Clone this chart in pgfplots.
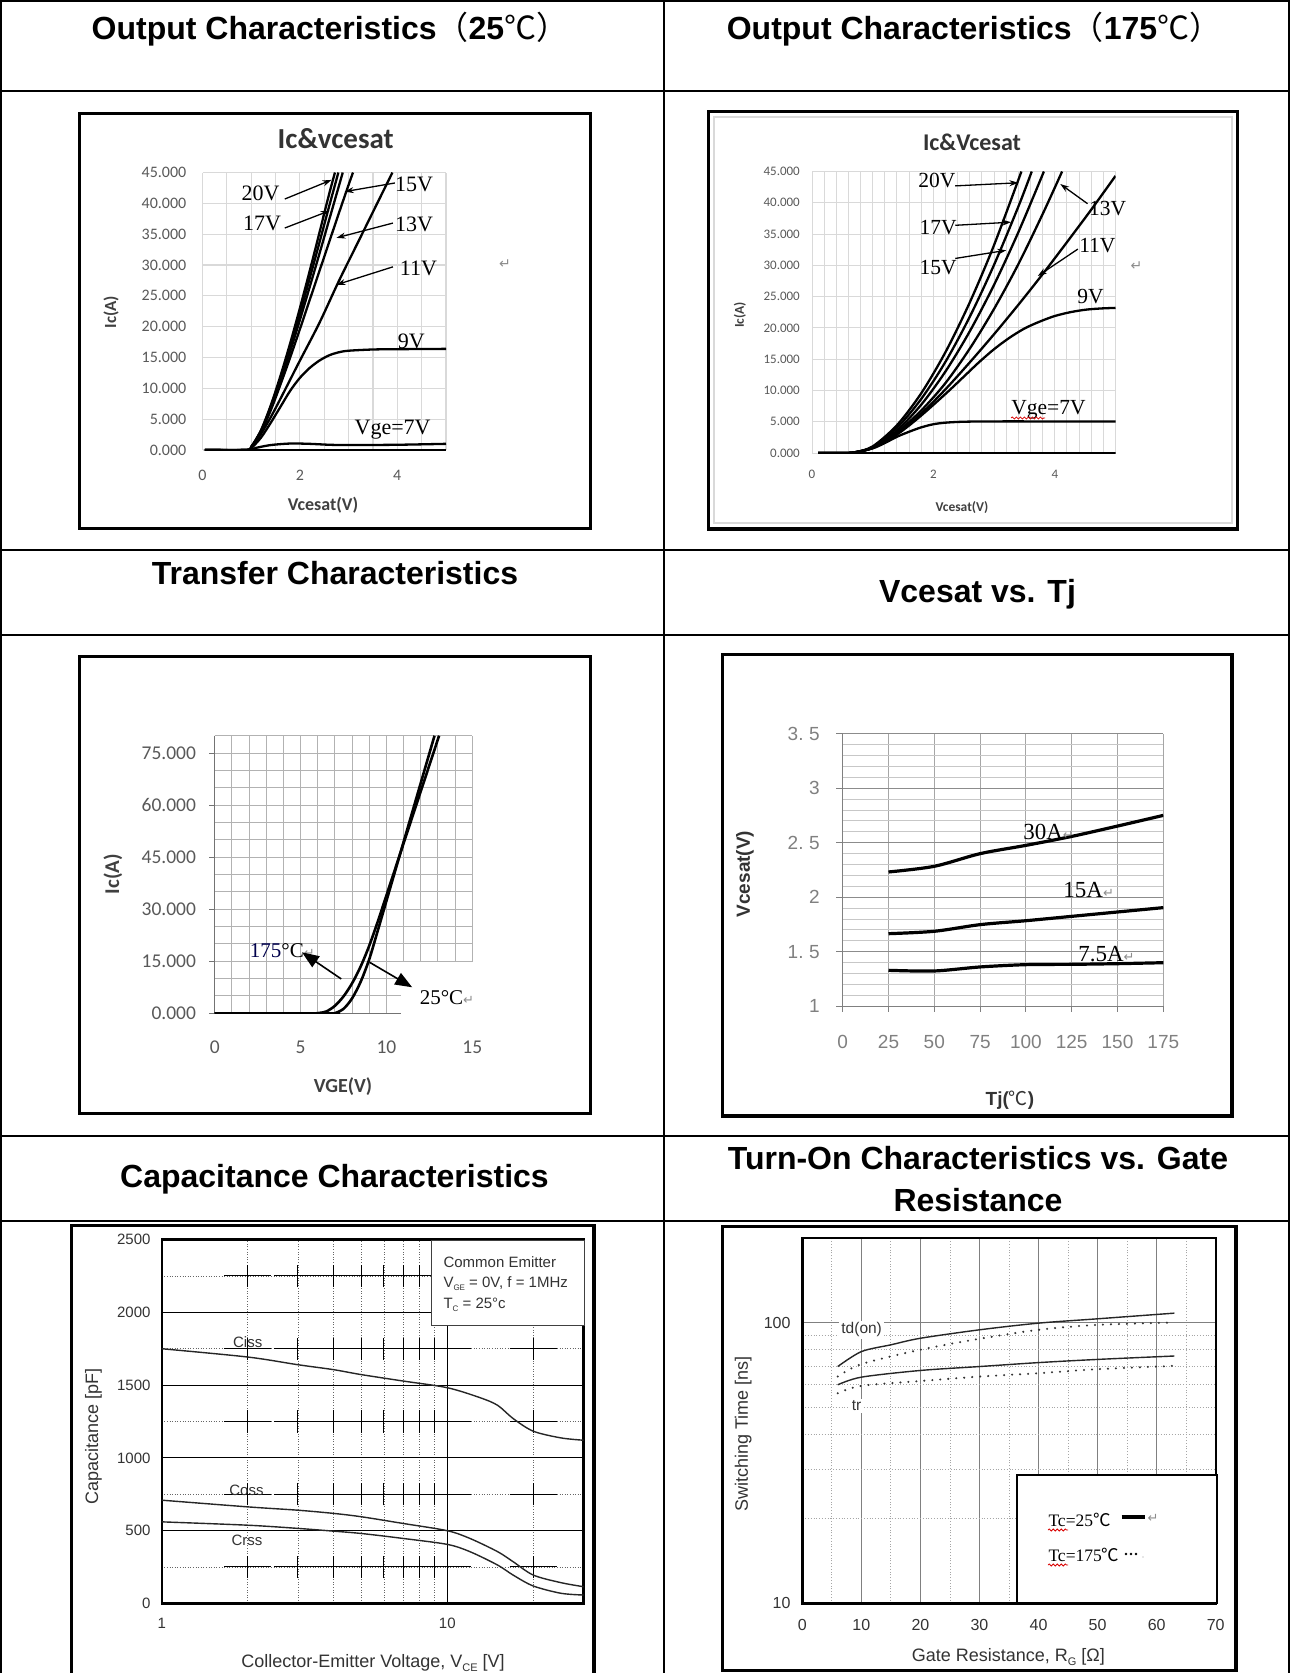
\documentclass[border=0pt]{standalone}
\usepackage{fontspec}
\usepackage{pgfplots}
\pgfplotsset{compat=1.18}
\usetikzlibrary{arrows.meta,decorations.pathmorphing}
\setmainfont{Liberation Sans}
\newfontfamily\carlito{Carlito}
\newfontfamily\tnr{Liberation Serif}
\newfontfamily\cjk{Noto Sans CJK SC}
\newfontfamily\dvs{DejaVu Sans}
\newcommand\fs[1]{\fontsize{#1}{#1}\selectfont}
\newcommand\ret[1][14]{{\dvs\fs{#1}\color{black!45}↵}}
\newcommand\gap{\hspace{0.3em}}
\definecolor{tickc}{HTML}{595959}
\definecolor{gridc}{HTML}{D9D9D9}
\definecolor{txt}{HTML}{333333}
\pgfplotsset{
  excel/.style={scale only axis, anchor=south west, clip mode=individual,
    axis line style={draw=none}, major tick length=0pt, minor tick length=0pt},
}
\tikzset{
  vlab/.style={font=\tnr\fs{#1}, inner sep=0pt, anchor=west},
  vlab/.default=22,
  thinarrow/.style={-{Stealth[length=9pt,width=6pt]}, line width=1.3pt},
  sol/.style={black!85, line width=1.4pt, smooth},
  dot/.style={black!80, line width=2.3pt, line cap=round, dash pattern=on 0pt off 8pt, smooth},
}
\begin{document}
\begin{tikzpicture}
\useasboundingbox (0,0) rectangle (1290pt,-1673pt);
\clip (0,0) rectangle (1290pt,-1673pt);
\begin{scope}[x=1pt,y=-1pt]
\fill[white] (0,0) rectangle (1290,1673);
% table rules
\draw[line width=1.7pt] (0,1) -- (1290,1) (0,91) -- (1290,91) (0,550) -- (1290,550)
  (0,635) -- (1290,635) (0,1136) -- (1290,1136) (0,1221) -- (1290,1221);
\draw[line width=1.7pt] (1,0) -- (1,1673) (664,0) -- (664,1673) (1289,0) -- (1289,1673);
% cell headings
\begin{scope}[every node/.style={font=\bfseries\fs{32}, inner sep=0pt}]
\node at (330,29) {Output Characteristics{\cjk\mdseries （}25{\cjk\mdseries ℃）}};
\node at (974,29) {Output Characteristics{\cjk\mdseries （}175{\cjk\mdseries ℃）}};
\node at (335,573) {Transfer Characteristics};
\node at (977.5,594) {Vcesat vs. Tj};
\node at (334.5,1179) {Capacitance Characteristics};
\node at (978,1158) {Turn-On Characteristics vs. Gate};
\node at (978,1200.5) {Resistance};
\end{scope}
% chart frames
\draw[line width=3.3pt] (79.5,113.5) rectangle (590.5,528.5);
\draw[line width=3.3pt] (708.5,111.5) rectangle (1237.5,529);
\draw[gray!30, line width=1.5pt] (714,117) rectangle (1232,523);
\draw[line width=3.3pt] (79.5,656.5) rectangle (590.5,1113.5);
\draw[line width=3.3pt] (722.5,654.5) rectangle (1232,1116);
\draw[line width=3.3pt] (71.5,1700) -- (71.5,1225.5) -- (594,1225.5) -- (594,1700);
\draw[line width=3.3pt] (722.5,1226.5) rectangle (1236,1670.5);
% chart titles and axis titles
\node[font=\carlito\bfseries\fs{29}, text=black!80, inner sep=0pt] at (335.7,138.7) {Ic\&vcesat};
\node[font=\carlito\bfseries\fs{17}, text=black!75, rotate=90, inner sep=0pt] at (111,312) {Ic(A)};
\node[font=\carlito\bfseries\fs{18}, text=black!75, inner sep=0pt] at (323,505) {Vcesat(V)};
\node[font=\carlito\bfseries\fs{24}, text=black!80, inner sep=0pt] at (972,142) {Ic\&Vcesat};
\node[font=\carlito\bfseries\fs{13.5}, text=black!75, rotate=90, inner sep=0pt] at (740,315) {Ic(A)};
\node[font=\carlito\bfseries\fs{13.5}, text=black!75, inner sep=0pt] at (962,508) {Vcesat(V)};
\node[font=\carlito\bfseries\fs{21}, text=black!75, rotate=90, inner sep=0pt] at (113,874) {Ic(A)};
\node[font=\carlito\bfseries\fs{20}, text=black!75, inner sep=0pt] at (343,1087) {VGE(V)};
\node[font=\bfseries\fs{19}, text=black!80, rotate=90, inner sep=0pt] at (745,874) {Vcesat(V)};
\node[font=\bfseries\fs{19}, text=black!80, inner sep=0pt] at (1010,1100) {Tj({\cjk\mdseries ℃})};
\node[font=\fs{18}, text=txt, rotate=90, inner sep=0pt] at (93.4,1436.7) {Capacitance [pF]};
\node[font=\fs{18}, text=txt, inner sep=0pt] at (373,1663) {Collector-Emitter Voltage, V\raisebox{-4pt}{\fs{11}CE} [V]};
\node[font=\fs{18}, text=txt, rotate=90, inner sep=0pt] at (743.3,1433.7) {Switching Time [ns]};
\node[font=\fs{18}, text=txt, inner sep=0pt] at (1008.3,1657) {Gate Resistance, R\raisebox{-4pt}{\fs{11}G} [Ω]};
\node at (505,264) {\ret};
\node at (1136.5,266) {\ret};
\end{scope}

% ---------- Output characteristics, 25 C ----------
\begin{axis}[excel, at={(202.5pt,-450pt)}, width=243.5pt, height=277.5pt,
  xmin=0, xmax=5, ymin=0, ymax=45,
  xtick={0,2,4}, xticklabels={0,2,4},
  ytick={0,5,...,45},
  yticklabels={0.000,5.000,10.000,15.000,20.000,25.000,30.000,35.000,40.000,45.000},
  minor xtick={0.5,1,...,5},
  grid=both, major grid style={draw=gridc, line width=1.1pt}, minor grid style={draw=gridc, line width=1.1pt},
  yticklabel style={font=\carlito\fs{16}, text=tickc, anchor=east, inner sep=0pt, xshift=-16pt},
  xticklabel style={font=\carlito\fs{16}, text=tickc, anchor=center, inner sep=0pt, yshift=-25pt},
  every axis plot/.append style={black, line width=2.3pt, line join=round},
]
\addplot[black] coordinates {(0.05,0) (5,0)};
\addplot[smooth] coordinates {(0.05,0) (0.9,0) (1.1,0.35) (1.4,0.8) (1.8,1.05) (2.2,1.0) (2.6,0.85) (3.0,0.8) (4.0,0.85) (5.0,1.0)};
\addplot[smooth] coordinates {(0.05,0) (0.9,0) (1.0,0.3) (1.2,2.0) (1.4,4.4) (1.6,7.0) (1.8,9.6) (2.0,11.7) (2.2,13.3) (2.4,14.5) (2.6,15.35) (2.8,15.85) (3.0,16.1) (3.5,16.3) (4.0,16.35) (5.0,16.4)};
\addplot[smooth] coordinates {(0.05,0) (0.9,0) (1.0,0.4) (1.2,2.6) (1.4,5.3) (1.6,8.3) (1.8,11.4) (2.0,14.5) (2.4,20.6) (2.8,27.4) (3.2,33.8) (3.6,40.2) (3.9,45)};
\addplot[smooth] coordinates {(0.05,0) (0.9,0) (1.0,0.45) (1.2,2.9) (1.4,6.4) (1.6,10.6) (1.8,15.0) (2.0,19.6) (2.2,24.3) (2.4,29.0) (2.6,33.7) (2.8,38.4) (3.0,43.0) (3.09,45)};
\addplot[smooth] coordinates {(0.05,0) (0.9,0) (1.0,0.5) (1.2,3.0) (1.4,6.8) (1.6,11.2) (1.8,16.0) (2.0,21.1) (2.2,26.4) (2.4,31.8) (2.6,37.3) (2.8,42.8) (2.88,45)};
\addplot[smooth] coordinates {(0.05,0) (0.9,0) (1.0,0.5) (1.2,3.1) (1.4,7.0) (1.6,11.6) (1.8,16.7) (2.0,22.1) (2.2,27.8) (2.4,33.6) (2.6,39.5) (2.79,45)};
\addplot[smooth] coordinates {(0.05,0) (0.9,0) (1.0,0.5) (1.2,3.2) (1.4,7.2) (1.6,12.0) (1.8,17.3) (2.0,23.0) (2.2,29.0) (2.4,35.2) (2.6,41.5) (2.72,45)};
\node[vlab] at (axis cs:0.80,41.6) {20V};
\node[vlab] at (axis cs:0.83,36.8) {17V};
\node[vlab] at (axis cs:3.95,43.1) {15V};
\node[vlab] at (axis cs:3.95,36.6) {13V};
\node[vlab] at (axis cs:4.05,29.5) {11V};
\node[vlab] at (axis cs:4.01,17.6) {9V};
\node[vlab] at (axis cs:3.12,3.24) {Vge=7V};
\draw[thinarrow] (axis cs:1.69,40.7) -- (axis cs:2.65,43.8);
\draw[thinarrow] (axis cs:1.69,36.0) -- (axis cs:2.61,38.8);
\draw[thinarrow] (axis cs:3.95,43.3) -- (axis cs:2.92,41.9);
\draw[thinarrow] (axis cs:3.91,36.8) -- (axis cs:2.75,34.4);
\draw[thinarrow] (axis cs:3.91,29.7) -- (axis cs:2.75,26.8);
\end{axis}

% ---------- Output characteristics, 175 C ----------
\begin{axis}[excel, at={(812pt,-453pt)}, width=303.5pt, height=281.5pt,
  xmin=0, xmax=5, ymin=0, ymax=45,
  xtick={0,2,4}, xticklabels={0,2,4},
  ytick={0,5,...,45},
  yticklabels={0.000,5.000,10.000,15.000,20.000,25.000,30.000,35.000,40.000,45.000},
  minor xtick={0.2,0.4,...,5},
  grid=both, major grid style={draw=gridc, line width=1pt}, minor grid style={draw=gridc, line width=1pt},
  yticklabel style={font=\carlito\fs{13}, text=tickc, anchor=east, inner sep=0pt, xshift=-12pt},
  xticklabel style={font=\carlito\fs{13}, text=tickc, anchor=center, inner sep=0pt, yshift=-21pt},
  every axis plot/.append style={black, line width=2.3pt, line join=round},
]
\addplot[black] coordinates {(0.1,0) (5,0)};
\addplot[smooth] coordinates {(0.1,0) (0.5,0) (0.7,0.1) (1.0,0.75) (1.2,1.6) (1.4,2.6) (1.6,3.4) (1.8,4.1) (2.0,4.6) (2.2,4.85) (2.5,5.0) (3.0,5.05) (4.0,5.05) (5.0,5.05)};
\addplot[smooth] coordinates {(0.1,0) (0.5,0) (0.7,0.1) (1.0,0.78) (1.2,1.8) (1.4,2.95) (1.6,4.4) (1.8,6.0) (2.0,7.7) (2.25,9.9) (2.5,12.2) (2.75,14.5) (3.0,16.6) (3.25,18.4) (3.5,19.9) (3.75,21.0) (4.0,21.9) (4.25,22.5) (4.5,22.9) (4.75,23.1) (5.0,23.2)};
\addplot[smooth] coordinates {(0.1,0) (0.5,0) (0.7,0.1) (1.0,0.8) (1.4,3.1) (1.8,6.3) (2.2,10.2) (2.6,14.5) (3.0,19.0) (3.4,23.7) (3.8,28.6) (4.2,33.7) (4.6,38.9) (5.0,44.3)};
\addplot[smooth] coordinates {(0.1,0) (0.5,0) (0.7,0.1) (1.0,0.85) (1.4,3.3) (1.8,6.8) (2.2,11.2) (2.6,16.7) (3.0,23.05) (3.4,30.2) (3.8,38.2) (4.12,45)};
\addplot[smooth] coordinates {(0.1,0) (0.5,0) (0.7,0.1) (1.0,0.9) (1.4,3.6) (1.8,7.73) (2.2,13.05) (2.6,19.47) (3.0,26.9) (3.4,35.3) (3.82,45)};
\addplot[smooth] coordinates {(0.1,0) (0.5,0) (0.7,0.1) (1.0,0.96) (1.4,4.03) (1.8,8.65) (2.2,14.6) (2.6,21.8) (3.0,30.1) (3.4,39.4) (3.62,45)};
\addplot[smooth] coordinates {(0.1,0) (0.5,0) (0.7,0.1) (1.0,1.06) (1.4,4.45) (1.8,9.56) (2.2,16.15) (2.6,24.09) (3.0,33.26) (3.45,45)};
\node[vlab=21.5] at (axis cs:1.75,43.6) {20V};
\node[vlab=21.5] at (axis cs:1.77,36.1) {17V};
\node[vlab=21.5] at (axis cs:1.77,29.6) {15V};
\node[vlab=21.5] at (axis cs:4.56,39.1) {13V};
\node[vlab=21.5] at (axis cs:4.40,33.2) {11V};
\node[vlab=21.5] at (axis cs:4.37,25.0) {9V};
\node[vlab=21.5] at (axis cs:3.28,6.9) {Vge=7V};
\draw[red!85!black, line width=0.8pt, decorate, decoration={snake, amplitude=1pt, segment length=4pt}] (axis cs:3.28,5.6) -- (axis cs:3.84,5.6);
\draw[thinarrow] (axis cs:2.36,42.7) -- (axis cs:3.40,43.2);
\draw[thinarrow] (axis cs:2.36,36.4) -- (axis cs:3.28,36.9);
\draw[thinarrow] (axis cs:2.36,31.1) -- (axis cs:3.20,32.4);
\draw[thinarrow] (axis cs:4.54,39.85) -- (axis cs:4.09,43.0);
\draw[thinarrow] (axis cs:4.38,32.6) -- (axis cs:3.72,28.3);
\end{axis}

% ---------- Transfer characteristics ----------
\begin{axis}[excel, at={(214.7pt,-1013.3pt)}, width=257.6pt, height=277.6pt,
  xmin=0, xmax=15, ymin=0, ymax=80,
  xtick={0,5,10,15}, xticklabels={0,5,10,15},
  ytick={0,15,...,75}, yticklabels={0.000,15.000,30.000,45.000,60.000,75.000},
  minor xtick={0,1,...,15}, minor ytick={0,5,...,80},
  grid=both, major grid style={draw=black!30, line width=1pt}, minor grid style={draw=black!30, line width=1pt},
  yticklabel style={font=\carlito\fs{19.5}, text=tickc, anchor=east, inner sep=0pt, xshift=-18.5pt},
  xticklabel style={font=\carlito\fs{19.5}, text=tickc, anchor=center, inner sep=0pt, yshift=-34pt},
]
\draw[black!55, line width=1pt] (axis cs:0,80) -- (axis cs:0,0) -- (axis cs:15,0);
\foreach \t in {0,15,30,45,60,75}{\edef\tmp{\noexpand\draw[black!55, line width=1pt] (axis cs:0,\t) -- ++(-6pt,0pt);}\tmp}
\fill[white] (axis cs:10.85,-2) rectangle (axis cs:15.4,14.9);
\addplot[black, line width=2.6pt, smooth] coordinates {(0,0) (5.8,0) (6.0,0.05) (6.5,0.54) (7.0,2.16) (7.5,4.87) (8.0,8.65) (8.5,13.5) (9.0,19.5) (9.5,26.5) (10,34.0) (10.5,41.5) (11,49.0) (11.5,56.5) (12,64.0) (12.5,71.5) (13,79.0) (13.07,80)};
\addplot[black, line width=2.6pt, smooth] coordinates {(0,0) (6.8,0) (7.0,0.04) (7.5,1.28) (8.0,4.31) (8.5,9.1) (9.0,15.6) (9.5,23.9) (10,32.4) (10.5,40.9) (11,49.4) (11.5,57.9) (12,66.4) (12.5,74.9) (12.8,80)};
\node[vlab=21] at (axis cs:2.04,18.1) {{\color{black!70!blue}175}°C\ret[13]};
\node[vlab=21] at (axis cs:11.93,4.6) {25°C\ret[13]};
\draw[line width=1.6pt, -{Triangle[length=17pt,width=13pt]}] (axis cs:7.37,9.9) -- (axis cs:5.08,17.6);
\draw[line width=1.6pt, -{Triangle[length=17pt,width=13pt]}] (axis cs:9.02,14.7) -- (axis cs:11.5,7.5);
\end{axis}

% ---------- Vcesat vs Tj ----------
\begin{axis}[excel, at={(842.7pt,-1006.3pt)}, width=320.6pt, height=272.6pt,
  xmin=0, xmax=175, ymin=1, ymax=3.5,
  xtick={0,25,...,175}, xticklabels={0,25,50,75,100,125,150,175},
  ytick={1,1.5,...,3.5}, yticklabels={1,1.\gap5,2,2.\gap5,3,3.\gap5},
  minor ytick={1.1,1.2,1.3,1.4,1.6,1.7,1.8,1.9,2.1,2.2,2.3,2.4,2.6,2.7,2.8,2.9,3.1,3.2,3.3,3.4},
  grid=both, major x grid style={draw=black!35, line width=1pt},
  major y grid style={draw=black!45, line width=1.1pt}, minor y grid style={draw=black!22, line width=1pt},
  yticklabel style={font=\fs{19}, text=black!50, anchor=east, inner sep=0pt, xshift=-22.7pt},
  xticklabel style={font=\fs{19}, text=black!50, anchor=center, inner sep=0pt, yshift=-35.7pt},
  every axis plot/.append style={black, line width=3.2pt, smooth, line join=round},
]
\draw[black!50, line width=1pt] (axis cs:0,3.5) -- (axis cs:0,1) -- (axis cs:175,1);
\foreach \t in {1,1.5,2,2.5,3,3.5}{\edef\tmp{\noexpand\draw[black!50, line width=1pt] (axis cs:0,\t) -- ++(-7pt,0pt);}\tmp}
\foreach \t in {0,25,50,75,100,125,150,175}{\edef\tmp{\noexpand\draw[black!50, line width=1pt] (axis cs:\t,1) -- ++(0pt,-6pt);}\tmp}
\addplot[black] coordinates {(25,2.232) (50,2.284) (75,2.40) (100,2.476) (125,2.558) (150,2.653) (175,2.751)};
\addplot[black] coordinates {(25,1.666) (50,1.688) (75,1.749) (100,1.785) (125,1.825) (150,1.865) (175,1.905)};
\addplot[black] coordinates {(25,1.330) (50,1.324) (75,1.361) (100,1.382) (125,1.385) (150,1.391) (175,1.400)};
\node[vlab=23] at (axis cs:98.5,2.6) {30A\ret[13]};
\node[vlab=23] at (axis cs:120.4,2.064) {15A\ret[13]};
\node[vlab=23] at (axis cs:128.5,1.483) {7.5A\ret[13]};
\end{axis}

% ---------- Capacitance ----------
\begin{axis}[scale only axis, anchor=south west, clip mode=individual,
  at={(161.7pt,-1603.3pt)}, width=421.9pt, height=363.7pt,
  xmode=log, xmin=1, xmax=30, ymin=0, ymax=2500,
  xtick={1,10}, xticklabels={1,10}, ytick={0,500,...,2500}, yticklabels={0,500,1000,1500,2000,2500},
  minor xtick={2,3,4,5,6,7,8,9,20}, minor ytick={250,750,1250,1750,2250},
  grid=both, major grid style={draw=black, line width=0.9pt},
  minor grid style={draw=black!60, line width=0.8pt, dash pattern=on 0.8pt off 1.8pt},
  axis line style={line width=2.4pt}, major tick length=0pt, minor tick length=0pt,
  yticklabel style={font=\fs{15}, text=txt, anchor=east, inner sep=0pt, xshift=-11pt},
  xticklabel style={font=\fs{15}, text=txt, anchor=center, inner sep=0pt, yshift=-20pt},
  every axis plot/.append style={black!85, line width=1.4pt, smooth},
]
% solid crosses where the dotted grid lines meet
\foreach \xx in {2,3,4,5,6,7,8,9,10,20}{\foreach \yy in {250,750,1250,1750,2250}{%
  \pgfmathsetmacro\xa{\xx/1.21}\pgfmathsetmacro\xb{\xx*1.21}%
  \pgfmathsetmacro\ya{\yy-76}\pgfmathsetmacro\yb{\yy+76}%
  \edef\tmp{\noexpand\draw[black, line width=1pt] (axis cs:\xa,\yy) -- (axis cs:\xb,\yy) (axis cs:\xx,\ya) -- (axis cs:\xx,\yb);}\tmp}}
\addplot[black!85] coordinates {(1,1750) (2,1693) (3,1640) (4,1606) (5,1572) (7,1528) (10,1482) (13,1414) (15,1361) (17,1270) (20,1183) (25,1137) (30,1121)};
\addplot[black!85] coordinates {(1,709) (2,663) (3,640) (4,618) (5,595) (7,549) (10,499) (12,446) (15,355) (17,286) (20,194) (25,142) (30,114)};
\addplot[black!85] coordinates {(1,560) (2,537) (3,515) (4,496) (5,480) (7,446) (10,405) (12,355) (15,263) (17,194) (20,119) (25,69) (30,57)};
\node[font=\fs{15}, text=txt, inner sep=0pt] at (axis cs:2.0,1795) {Ciss};
\node[font=\fs{15}, text=txt, inner sep=0pt] at (axis cs:1.98,778) {Coss};
\node[font=\fs{15}, text=txt, inner sep=0pt] at (axis cs:1.99,435) {Crss};
\end{axis}

% ---------- Turn-on vs gate resistance ----------
\begin{axis}[scale only axis, anchor=south west, clip mode=individual,
  at={(802.3pt,-1603.3pt)}, width=413.4pt, height=365.3pt,
  ymode=log, xmin=0, xmax=70, ymin=10, ymax=200,
  xtick={0,10,...,70}, xticklabels={0,10,20,30,40,50,60,70}, ytick={10,100}, yticklabels={10,100},
  minor xtick={5,15,25,35,45,55,65}, minor ytick={20,30,40,50,60,70,80,90},
  grid=both, major grid style={draw=black!50, line width=1pt},
  minor grid style={draw=black!35, line width=0.9pt, dash pattern=on 1pt off 1.8pt},
  axis line style={line width=2.4pt}, major tick length=0pt, minor tick length=0pt,
  yticklabel style={font=\fs{16}, text=txt, anchor=east, inner sep=0pt, xshift=-11.6pt},
  xticklabel style={font=\fs{16}, text=txt, anchor=center, inner sep=0pt, yshift=-22pt},
]
\addplot[sol] coordinates {(6,69.7) (10,78.8) (15,83.3) (20,87.9) (30,94.2) (40,99.5) (50,103.1) (63,108.0)};
\addplot[dot] coordinates {(6,64.2) (10,71.1) (20,80.0) (30,87.5) (40,94.2) (50,98.1) (63,100)};
\addplot[sol] coordinates {(6,60.0) (10,63.9) (20,67.5) (30,69.7) (40,72.0) (50,73.9) (63,76.0)};
\addplot[dot] coordinates {(6,56.0) (10,59.5) (20,61.9) (30,64.2) (40,66.0) (50,68.2) (63,70.1)};
\node[font=\fs{15.5}, text=txt, fill=white, inner sep=2pt] at (axis cs:10.05,94.2) {td(on)};
\node[font=\fs{15.5}, text=txt, fill=white, inner sep=2pt] at (axis cs:9.2,50.6) {tr};
\end{axis}

% ---------- legend boxes ----------
\begin{scope}[x=1pt,y=-1pt]
\draw[black!75, line width=1pt, fill=white] (431.4,1240.6) rectangle (584.6,1325.1);
\begin{scope}[every node/.style={font=\fs{15}, text=txt, inner sep=0pt, anchor=west}]
\node at (443.3,1262) {Common Emitter};
\node at (443.3,1284) {V\raisebox{-3pt}{\fs{8}GE} = 0V, f = 1MHz};
\node at (443.3,1305) {T\raisebox{-3pt}{\fs{8}C} = 25°c};
\end{scope}
\draw[black, line width=1.8pt, fill=white] (1017.3,1475.3) rectangle (1216.7,1603.3);
\node[font=\tnr\fs{17.5}, inner sep=0pt, anchor=west] at (1048.3,1520.3) {Tc=25{\cjk ℃}};
\node[font=\tnr\fs{17.5}, inner sep=0pt, anchor=west] at (1048.3,1555.3) {Tc=175{\cjk ℃}};
\draw[line width=3.2pt] (1121.7,1517) -- (1145,1517);
\node at (1153,1518) {\ret[13]};
\fill (1126,1554) circle (1.3) (1131,1554) circle (1.3) (1136,1554) circle (1.3);
\fill[black!40] (1143,1557) circle (0.7);
\draw[red!85!black, line width=0.8pt, decorate, decoration={snake, amplitude=1pt, segment length=4pt}] (1048,1530) -- (1068,1530);
\draw[red!85!black, line width=0.8pt, decorate, decoration={snake, amplitude=1pt, segment length=4pt}] (1048,1565) -- (1068,1565);
\end{scope}
\end{tikzpicture}
\end{document}
